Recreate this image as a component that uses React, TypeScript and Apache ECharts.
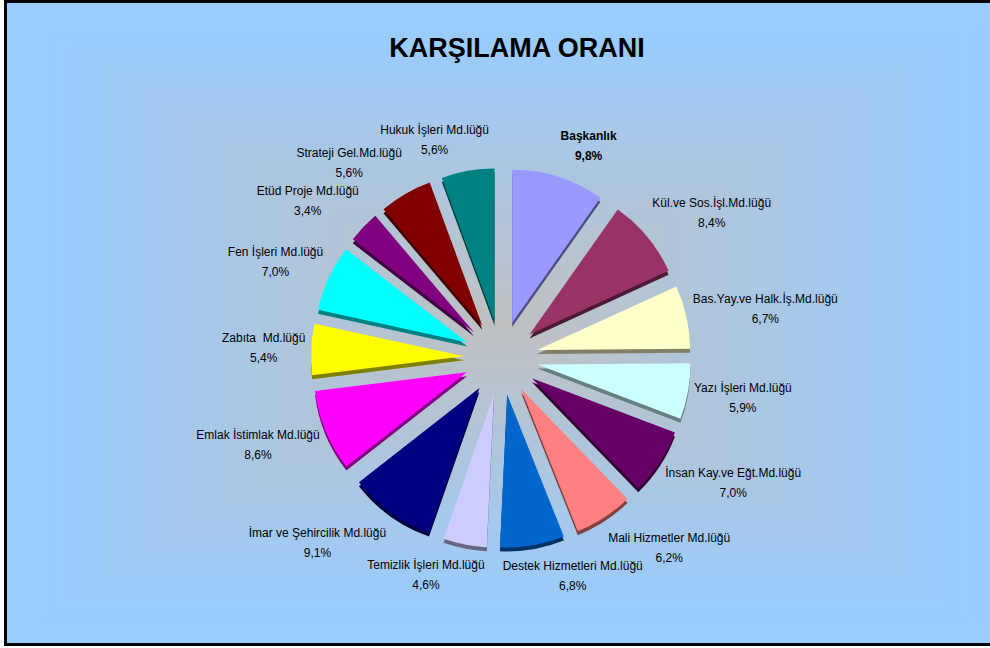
import React, { useEffect, useRef } from 'react';
import * as echarts from 'echarts';

const categories = [
  'Başkanlık',
  'Kül.ve Sos.İşl.Md.lüğü',
  'Bas.Yay.ve Halk.İş.Md.lüğü',
  'Yazı İşleri Md.lüğü',
  'İnsan Kay.ve Eğt.Md.lüğü',
  'Mali Hizmetler Md.lüğü',
  'Destek Hizmetleri Md.lüğü',
  'Temizlik İşleri Md.lüğü',
  'İmar ve Şehircilik Md.lüğü',
  'Emlak İstimlak Md.lüğü',
  'Zabıta  Md.lüğü',
  'Fen İşleri Md.lüğü',
  'Etüd Proje Md.lüğü',
  'Strateji Gel.Md.lüğü',
  'Hukuk İşleri Md.lüğü',
];
const values = [9.8, 8.4, 6.7, 5.9, 7.0, 6.2, 6.8, 4.6, 9.1, 8.6, 5.4, 7.0, 3.4, 5.6, 5.6];
const colors = [
  '#9999FF', '#993366', '#FFFFCC', '#CCFFFF', '#660066', '#FF8080', '#0066CC',
  '#CCCCFF', '#000080', '#FF00FF', '#FFFF00', '#00FFFF', '#800080', '#800000', '#008080',
];
const boldCategories = ['Başkanlık'];
const titleText = 'KARŞILAMA ORANI';

const FONT = '"Liberation Sans", Arial, sans-serif';
const CX = 501;
const CY = 358;
const R = 153;
const OFFSET = 37;
const LABEL_R = 195;

function darken(hex: string, f: number) {
  const n = parseInt(hex.slice(1), 16);
  const r = Math.round(((n >> 16) & 255) * f);
  const g = Math.round(((n >> 8) & 255) * f);
  const b = Math.round((n & 255) * f);
  return `rgb(${r},${g},${b})`;
}

function lerpColor(a: number[], b: number[], t: number) {
  const c = a.map((v, i) => Math.round(v + (b[i] - v) * t));
  return `rgb(${c[0]},${c[1]},${c[2]})`;
}

function fmt(v: number) {
  return v.toFixed(1).replace('.', ',') + '%';
}

export default function App() {
  const ref = useRef<HTMLDivElement>(null);
  useEffect(() => {
    document.body.style.margin = '0';
    const chart = echarts.init(ref.current!, undefined, { renderer: 'svg' });
    const total = values.reduce((s, v) => s + v, 0);
    const midAngle = (i: number) => {
      let cum = 0;
      for (let j = 0; j < i; j++) cum += values[j];
      return ((cum + values[i] / 2) / total) * Math.PI * 2;
    };
    const ctx = document.createElement('canvas').getContext('2d')!;

    const bg: any[] = [];
    bg.push({
      type: 'rect',
      shape: { x: 5.5, y: 1.5, width: 1000, height: 643 },
      style: { fill: '#99CCFF', stroke: '#000', lineWidth: 3 },
      z: -20,
    });
    const GX = 505, GY = 323, HW = 485, HH = 309, N = 48;
    const blue = [0x99, 0xcc, 0xff];
    const gray = [0xc0, 0xc0, 0xc0];
    for (let k = 0; k < N; k++) {
      const t = 1 - k / N;
      bg.push({
        type: 'rect',
        shape: { x: GX - HW * t, y: GY - HH * t, width: 2 * HW * t, height: 2 * HH * t },
        style: { fill: lerpColor(gray, blue, Math.min(1, t * 1.05)) },
        z: -19,
        silent: true,
      });
    }
    bg.push({
      type: 'text',
      x: 517,
      y: 48,
      style: {
        text: titleText,
        font: `bold 27px ${FONT}`,
        fill: '#000',
        align: 'center',
        verticalAlign: 'middle',
      },
      z: 10,
    });

    // slice labels, placed outside each slice from its data-derived mid angle
    const labels: any[] = categories.map((name, i) => {
      const a = midAngle(i);
      const s = Math.sin(a);
      const c = Math.cos(a);
      const bold = boldCategories.includes(name);
      const font = `${bold ? 'bold ' : ''}12px ${FONT}`;
      ctx.font = font;
      const w = Math.max(ctx.measureText(name).width, ctx.measureText(fmt(values[i])).width);
      const kx = Math.sign(s) * Math.min(1, Math.abs(s) / 0.3) * (w / 2) * 1.02;
      const ky = -Math.sign(c) * Math.min(1, Math.abs(c) / 0.8) * 26;
      return {
        type: 'text',
        x: CX + LABEL_R * s + kx,
        y: CY - LABEL_R * c + ky,
        style: {
          text: `${name}\n${fmt(values[i])}`,
          font,
          lineHeight: 20,
          fill: '#000',
          align: 'center',
          verticalAlign: 'middle',
        },
        z: 20,
      };
    });

    const mainData = categories.map((name, i) => ({
      name,
      value: values[i],
      selected: true,
      itemStyle: { color: colors[i] },
    }));
    const shadowData = categories.map((name, i) => ({
      name,
      value: values[i],
      selected: true,
      itemStyle: { color: darken(colors[i], 0.5) },
    }));

    chart.setOption({
      animation: false,
      graphic: bg.concat(labels),
      series: [
        {
          type: 'pie',
          name: 'depth',
          silent: true,
          center: [CX, CY + 4],
          radius: [0, R],
          startAngle: 90,
          clockwise: true,
          selectedMode: 'multiple',
          selectedOffset: OFFSET,
          label: { show: false },
          labelLine: { show: false },
          emphasis: { disabled: true },
          data: shadowData,
          z: 1,
        },
        {
          type: 'pie',
          name: 'KARŞILAMA ORANI',
          center: [CX, CY],
          radius: [0, R],
          startAngle: 90,
          clockwise: true,
          selectedMode: 'multiple',
          selectedOffset: OFFSET,
          emphasis: { disabled: true },
          label: { show: false },
          labelLine: { show: false },
          data: mainData,
          z: 2,
        },
      ],
    });
    return () => chart.dispose();
  }, []);
  return <div ref={ref} style={{ width: 990, height: 648 }} />;
}
